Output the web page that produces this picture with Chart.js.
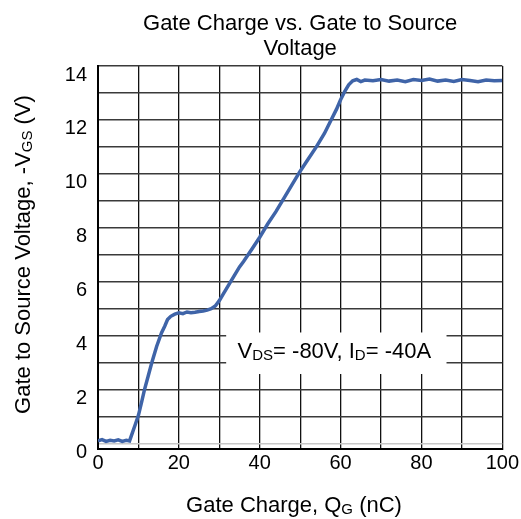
<!DOCTYPE html>
<html>
<head>
<meta charset="utf-8">
<script src="https://cdn.jsdelivr.net/npm/chart.js@4/dist/chart.umd.min.js"></script>
<style>
  html, body { margin: 0; padding: 0; background: #fff; }
  #wrap { width: 521px; height: 519px; }
</style>
</head>
<body>
<div id="wrap"><canvas id="myChart" width="521" height="519"></canvas></div>
<script>
// values
const gateCharge = [0, 1, 2, 3, 4, 5, 6, 7, 7.8, 8.5, 9.2, 10, 10.8, 11.5, 12.4, 13.3, 14.5, 15.7, 16.5, 17.2,
  18, 19, 20, 21, 22, 23, 24, 25, 26, 27, 28, 29, 30, 31, 32, 33, 34, 35, 36, 38,
  40, 42, 44, 46, 48, 50, 52, 54, 56, 57.5, 59, 60, 61, 62, 63, 64, 65, 66, 68, 70,
  72, 74, 76, 78, 80, 82, 84, 86, 88, 90, 92, 94, 96, 98, 100];
const gateVoltage = [0.1, 0.15, 0.08, 0.12, 0.1, 0.14, 0.08, 0.12, 0.1, 0.4, 0.7, 1.05, 1.55, 2.0, 2.5, 3.0, 3.6, 4.1, 4.35, 4.6,
  4.72, 4.8, 4.85, 4.82, 4.88, 4.85, 4.87, 4.9, 4.92, 4.95, 5.0, 5.1, 5.3, 5.55, 5.8, 6.05, 6.3, 6.55, 6.75, 7.2,
  7.65, 8.15, 8.6, 9.1, 9.6, 10.1, 10.55, 11.0, 11.5, 11.95, 12.4, 12.75, 13.05, 13.3, 13.45, 13.5, 13.42, 13.48, 13.45, 13.5,
  13.44, 13.48, 13.42, 13.5, 13.46, 13.52, 13.44, 13.48, 13.43, 13.5, 13.46, 13.42, 13.48, 13.45, 13.46];

const xTicks = [0, 10, 20, 30, 40, 50, 60, 70, 80, 90, 100];
const yTicks = [0, 1, 2, 3, 4, 5, 6, 7, 8, 9, 10, 11, 12, 13, 14];

const titleLines = ['Gate Charge vs. Gate to Source', 'Voltage'];
const xTitle = [['Gate Charge, Q', false], ['G', true], [' (nC)', false]];
const yTitle = [['Gate to Source Voltage, -V', false], ['GS', true], [' (V)', false]];
const noteText = [['V', false], ['DS', true], ['= -80V, I', false], ['D', true], ['= -40A', false]];
const noteBox = { x1: 31.7, x2: 86.2, y1: 2.58, y2: 4.12 };

const FONT = '"Liberation Sans", Arial, sans-serif';

function richWidth(ctx, parts, size, subSize) {
  let w = 0;
  for (const p of parts) {
    ctx.font = (p[1] ? subSize : size) + 'px ' + FONT;
    w += ctx.measureText(p[0]).width;
  }
  return w;
}

function drawRich(ctx, parts, cx, baseline, size, subSize, subDrop) {
  let x = cx - richWidth(ctx, parts, size, subSize) / 2;
  ctx.textAlign = 'left';
  ctx.textBaseline = 'alphabetic';
  for (const p of parts) {
    ctx.font = (p[1] ? subSize : size) + 'px ' + FONT;
    ctx.fillText(p[0], x, baseline + (p[1] ? subDrop : 0));
    x += ctx.measureText(p[0]).width;
  }
}

const textLayer = {
  id: 'textLayer',
  beforeDatasetsDraw(chart) {
    const ctx = chart.ctx;
    const xs = chart.scales.x, ys = chart.scales.y;
    const l = xs.getPixelForValue(noteBox.x1), r = xs.getPixelForValue(noteBox.x2);
    const t = ys.getPixelForValue(noteBox.y2), b = ys.getPixelForValue(noteBox.y1);
    ctx.save();
    ctx.fillStyle = '#fff';
    ctx.fillRect(l, t, r - l, b - t);
    ctx.fillStyle = '#000';
    drawRich(ctx, noteText, (l + r) / 2 - 2, t + 26, 22, 15, 2);
    ctx.restore();
  },
  afterDraw(chart) {
    const ctx = chart.ctx;
    const area = chart.chartArea;
    const cx = (area.left + area.right) / 2;
    ctx.save();
    ctx.fillStyle = '#000';
    ctx.textAlign = 'center';
    ctx.font = '22px ' + FONT;
    ctx.fillText(titleLines[0], cx, 30);
    ctx.fillText(titleLines[1], cx, 55);
    drawRich(ctx, xTitle, 294, 512, 22, 15, 2);
    ctx.translate(30, (area.top + area.bottom) / 2 - 3);
    ctx.rotate(-Math.PI / 2);
    drawRich(ctx, yTitle, 0, 0, 22, 15, 2);
    ctx.restore();
  }
};

const data = {
  labels: gateCharge,
  datasets: [{
    data: gateCharge.map((q, i) => ({ x: q, y: gateVoltage[i] })),
    borderColor: '#3f64a8',
    borderWidth: 3.5,
    pointRadius: 0,
    tension: 0
  }]
};

const config = {
  type: 'line',
  data: data,
  options: {
    responsive: false,
    animation: false,
    layout: { padding: { top: 66, left: 0, right: 16, bottom: 0 } },
    plugins: {
      legend: { display: false },
      title: { display: false },
      tooltip: { enabled: false }
    },
    scales: {
      x: {
        type: 'linear',
        min: 0,
        max: 100,
        afterBuildTicks: s => { s.ticks = xTicks.map(v => ({ value: v })); },
        afterFit: s => { s.height = 70; },
        grid: { color: '#111', lineWidth: 1.3, drawTicks: false },
        border: { color: '#000', width: 2 },
        ticks: {
          padding: 2,
          color: '#000',
          font: { family: FONT, size: 20 },
          maxRotation: 0,
          autoSkip: false,
          callback: v => (v % 20 === 0 ? v : '')
        }
      },
      y: {
        type: 'linear',
        min: -0.2,
        max: 14,
        afterBuildTicks: s => { s.ticks = yTicks.map(v => ({ value: v })); },
        afterFit: s => { s.width = 98; },
        grid: {
          color: c => (c.tick && c.tick.value === 0 ? '#c8c8c8' : '#3a3a3a'),
          lineWidth: 1.5,
          drawTicks: false
        },
        border: { color: '#000', width: 2 },
        ticks: {
          padding: 11,
          labelOffset: 9,
          color: '#000',
          font: { family: FONT, size: 20 },
          autoSkip: false,
          callback: v => (v % 2 === 0 ? v : '')
        }
      }
    }
  },
  plugins: [textLayer]
};

const myChart = new Chart(document.getElementById('myChart'), config);
</script>
</body>
</html>
